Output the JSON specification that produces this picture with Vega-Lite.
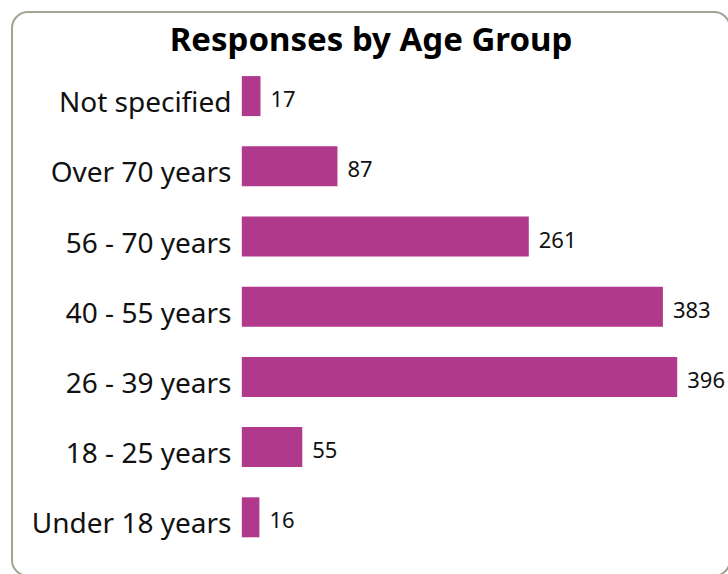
{
  "$schema": "https://vega.github.io/schema/vega-lite/v6.json",
  "autosize": {"type": "none"},
  "padding": {"left": 12, "top": 12, "right": 0, "bottom": 0},
  "width": 718,
  "height": 564,
  "background": "white",
  "config": {
    "view": {"stroke": "#a3a394", "strokeWidth": 2, "cornerRadius": 16},
    "font": "Noto Sans"
  },
  "title": {
    "text": "Responses by Age Group",
    "fontSize": 33,
    "fontWeight": "bold",
    "color": "#000000",
    "anchor": "middle",
    "baseline": "alphabetic",
    "offset": -40,
    "dy": 32,
    "font": "Noto Sans"
  },
  "data": {
    "values": [
      {"group": "Not specified", "count": 17},
      {"group": "Over 70 years", "count": 87},
      {"group": "56 - 70 years", "count": 261},
      {"group": "40 - 55 years", "count": 383},
      {"group": "26 - 39 years", "count": 396},
      {"group": "18 - 25 years", "count": 55},
      {"group": "Under 18 years", "count": 16}
    ]
  },
  "encoding": {
    "y": {
      "field": "group",
      "type": "nominal",
      "sort": null,
      "scale": {"range": [49, 540.4], "paddingInner": 0.43, "paddingOuter": 0.215},
      "axis": {
        "title": null,
        "domain": false,
        "ticks": false,
        "tickSize": 0,
        "labelPadding": -219,
        "labelAlign": "right",
        "labelBaseline": "alphabetic",
        "labelOffset": 16,
        "labelFontSize": 28,
        "labelColor": "#111111",
        "labelFont": "Noto Sans",
        "labelLimit": 400
      }
    },
    "x": {
      "field": "count",
      "type": "quantitative",
      "scale": {"domain": [-209, 444], "nice": false, "zero": true},
      "axis": null
    }
  },
  "layer": [
    {"mark": {"type": "bar", "color": "#b0398c"}},
    {
      "mark": {"type": "text", "align": "left", "baseline": "alphabetic", "dx": 10, "dy": 11, "fontSize": 22, "color": "#111111", "font": "Noto Sans"},
      "encoding": {"text": {"field": "count", "type": "quantitative"}}
    }
  ]
}
